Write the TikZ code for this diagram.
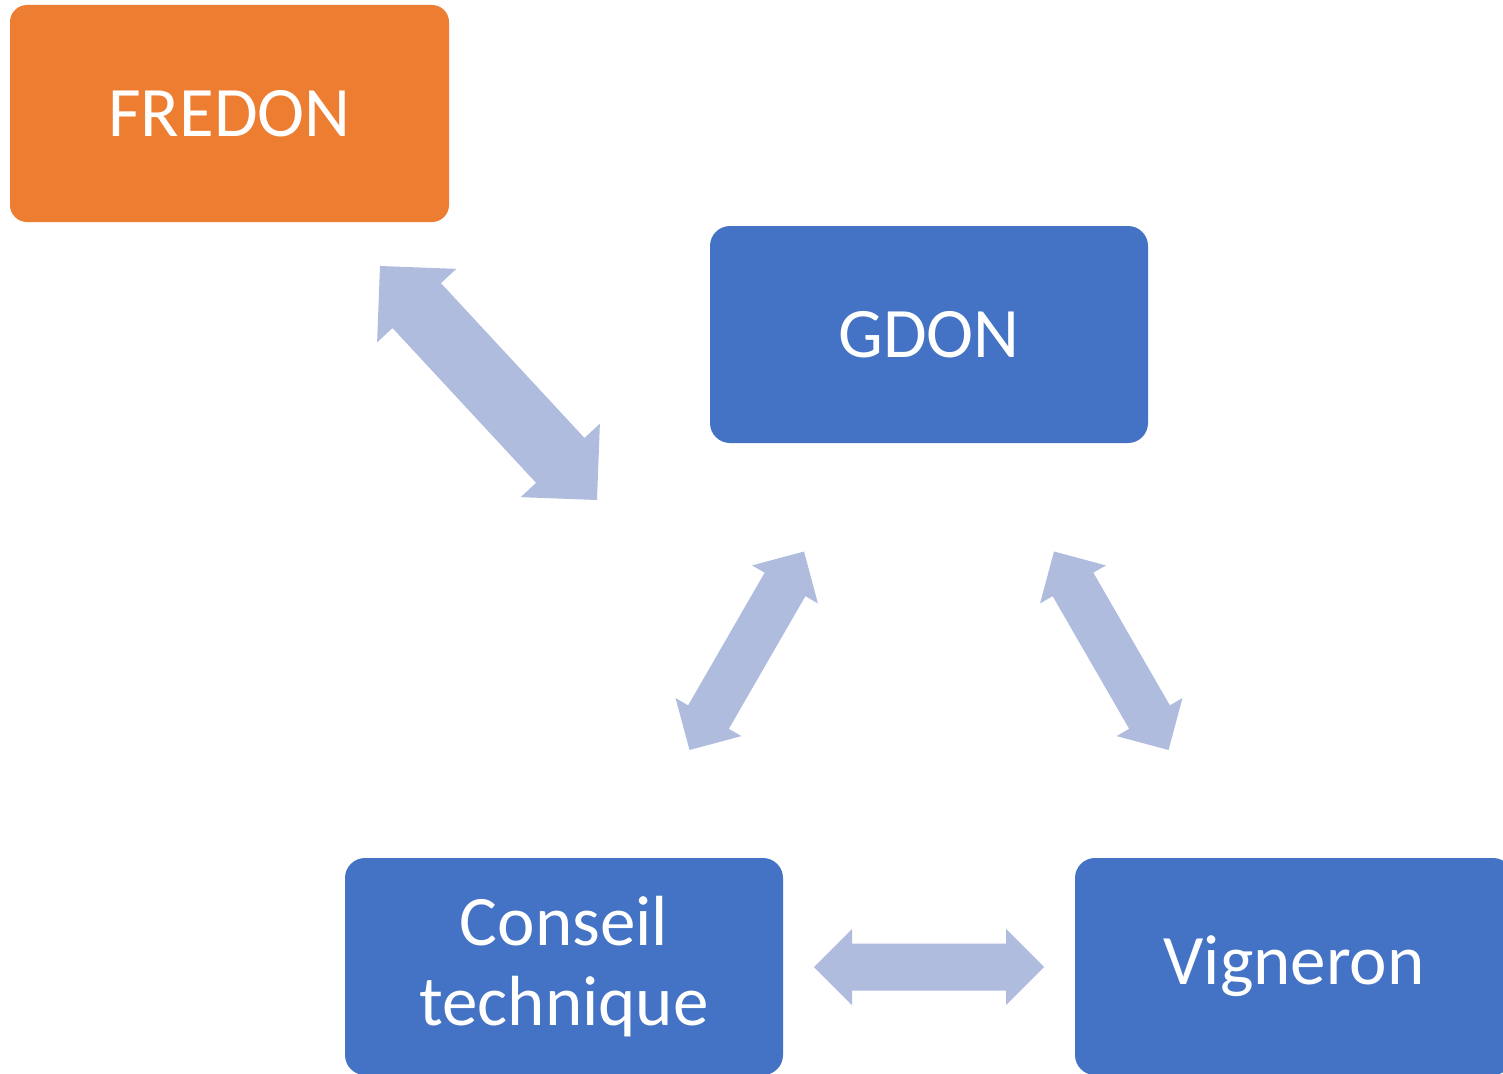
\documentclass[tikz,border=0pt]{standalone}
\usepackage{fontspec}
\setmainfont{Carlito}
\usetikzlibrary{calc}
\definecolor{orangeF}{HTML}{ED7D31}
\definecolor{blueB}{HTML}{4472C4}
\definecolor{arrowC}{HTML}{AFBCDE}
\newcommand\blockarrow[4]{%
  \path coordinate (pa) at ($(#1)!#4!(#2)$) coordinate (pb) at ($(#2)!#4!(#1)$);
  \fill[arrowC] (#1) -- ($(pa)!#4!90:(#2)$) -- ($(pa)!#3!90:(#2)$)
    -- ($(pb)!#3!-90:(#1)$) -- ($(pb)!#4!-90:(#1)$) -- (#2)
    -- ($(pb)!#4!90:(#1)$) -- ($(pb)!#3!90:(#1)$)
    -- ($(pa)!#3!-90:(#2)$) -- ($(pa)!#4!-90:(#2)$) -- cycle;
}
\begin{document}
\begin{tikzpicture}[x=1pt,y=-1pt,
  box/.style={rounded corners=20pt, inner sep=0pt, minimum width=438pt,
    minimum height=217pt, text=white, align=center,
    font=\fontsize{71}{80}\selectfont}]
\clip (0,0) rectangle (1503,1073);
\fill[white] (0,0) rectangle (1503,1073);
\node[box, fill=orangeF, rounded corners=17pt, minimum width=439pt] (fredon) at (229.5,113.5) {FREDON};
\node[box, fill=blueB] (gdon) at (929,334.5) {GDON};
\node[box, fill=blueB] (conseil) at (564,966.5) {Conseil\\technique};
\node[box, fill=blueB] (vigneron) at (1294,966.5) {Vigneron};
\coordinate (a1s) at (380,266);
\coordinate (a1e) at (597,500);
\coordinate (a2s) at (804,551.5);
\coordinate (a2e) at (689.5,750);
\coordinate (a3s) at (1054,551.5);
\coordinate (a3e) at (1168.5,750);
\coordinate (a4s) at (814,967);
\coordinate (a4e) at (1044,967);
\blockarrow{a1s}{a1e}{33pt}{54pt}
\blockarrow{a2s}{a2e}{23.5pt}{38pt}
\blockarrow{a3s}{a3e}{23.5pt}{38pt}
\blockarrow{a4s}{a4e}{23.5pt}{38pt}
\end{tikzpicture}
\end{document}
